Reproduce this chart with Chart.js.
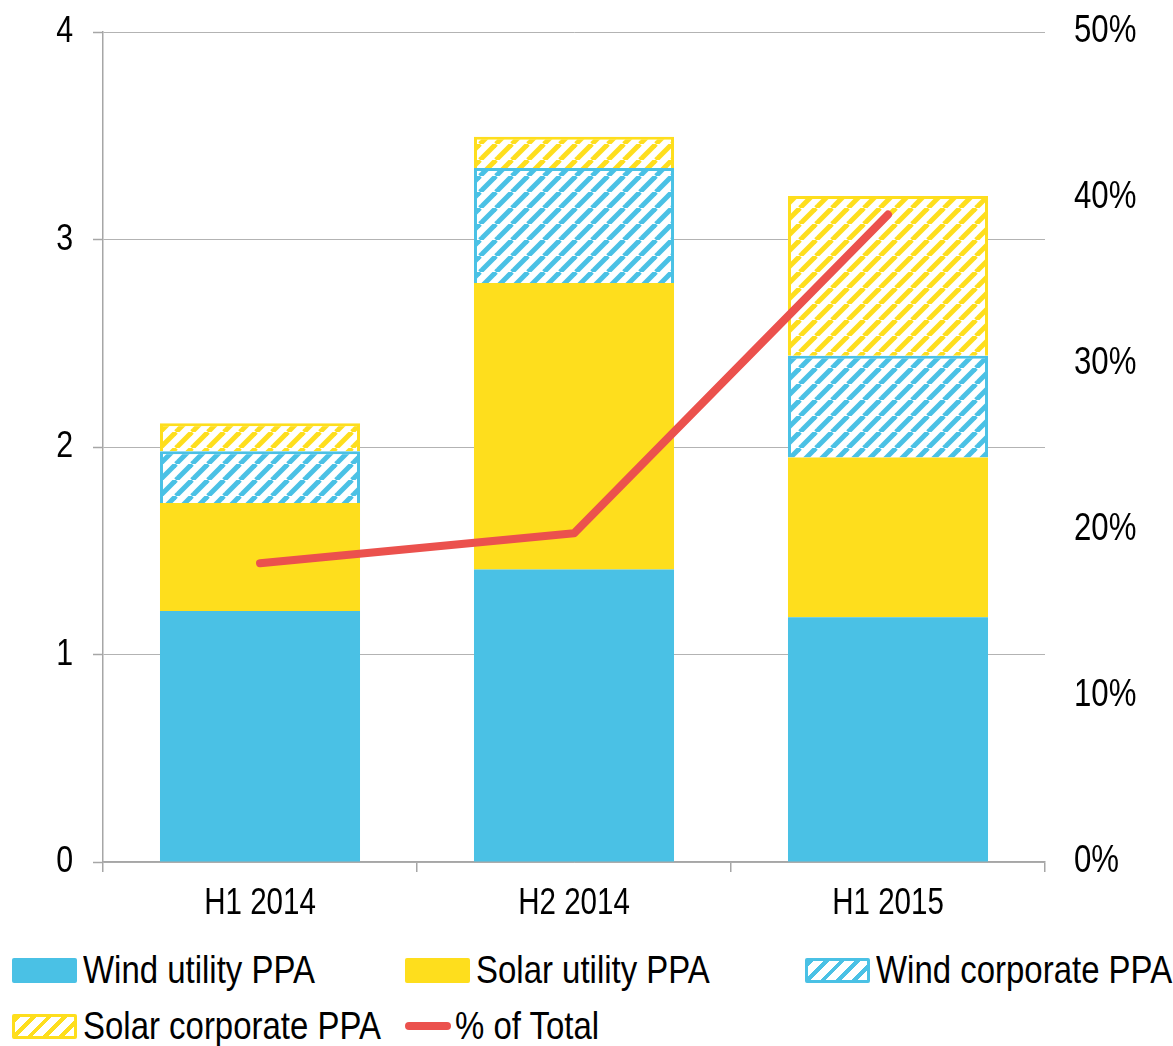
<!DOCTYPE html>
<html>
<head>
<meta charset="utf-8">
<script src="https://cdn.jsdelivr.net/npm/chart.js@4/dist/chart.umd.min.js"></script>
<style>
  body { margin: 0; background: #fff; width: 1173px; height: 1046px; overflow: hidden; }
  #wrap { position: absolute; left: 0; top: 0; width: 1173px; height: 940px; }
  .legend { position: absolute; left: 0; top: 940px; width: 1173px; height: 106px;
    font-family: "Liberation Sans", Arial, sans-serif; font-size: 39px; color: #000; }
  .item { position: absolute; display: flex; align-items: center; white-space: nowrap; }
  .box { width: 65px; height: 25px; box-sizing: border-box; margin-right: 6px; border-radius: 2px; flex: none; }
  .dash { width: 46px; height: 8px; border-radius: 4px; background: #eb514d; margin-right: 4px; flex: none; }
  .txt { display: inline-block; transform: scaleX(0.845); transform-origin: 0 50%; }
</style>
</head>
<body>
<div id="wrap"><canvas id="ppaChart" width="1173" height="940"></canvas></div>
<div class="legend" id="legend"></div>
<script>
const periods = ["H1 2014", "H2 2014", "H1 2015"];
const windUtility = [1.21, 1.41, 1.18];
const solarUtility = [0.52, 1.38, 0.77];
const windCorporate = [0.25, 0.555, 0.49];
const solarCorporate = [0.135, 0.15, 0.77];
const pctOfTotal = [18.0, 19.8, 39.0];
const leftTicks = [0, 1, 2, 3, 4];
const rightTicks = [0, 10, 20, 30, 40, 50];

const BLUE = "#4ac1e5";
const YELLOW = "#fede1d";
const RED = "#eb514d";
const FONT = '"Liberation Sans", Arial, sans-serif';
const NARROW = 0.82; // the original uses a narrow face, squeeze the regular one

function hatch(color) {
  const c = document.createElement("canvas");
  const s = 16;
  c.width = s; c.height = s;
  const g = c.getContext("2d");
  g.fillStyle = "#fff";
  g.fillRect(0, 0, s, s);
  g.strokeStyle = color;
  g.lineWidth = 5;
  for (const off of [-s, 0, s]) {
    g.beginPath();
    g.moveTo(off, s);
    g.lineTo(off + s, 0);
    g.stroke();
  }
  return g.createPattern(c, "repeat");
}

const ctx = document.getElementById("ppaChart").getContext("2d");
const baseFillText = ctx.fillText.bind(ctx);
ctx.fillText = function (text, x, y, maxWidth) {
  ctx.save();
  ctx.translate(x, y);
  ctx.scale(NARROW, 1);
  baseFillText(text, 0, 0);
  ctx.restore();
};

function noPad(s) {
  s.paddingTop = 0;
  s.paddingBottom = 0;
}

new Chart(ctx, {
  type: "bar",
  data: {
    labels: periods,
    datasets: [
      { label: "Wind utility PPA", data: windUtility, backgroundColor: BLUE, borderWidth: 0, order: 1 },
      { label: "Solar utility PPA", data: solarUtility, backgroundColor: YELLOW, borderWidth: 0, order: 1 },
      { label: "Wind corporate PPA", data: windCorporate, backgroundColor: hatch(BLUE), borderColor: BLUE, borderWidth: 3, order: 1 },
      { label: "Solar corporate PPA", data: solarCorporate, backgroundColor: hatch(YELLOW), borderColor: YELLOW, borderWidth: 3, order: 1 },
      {
        type: "line",
        label: "% of Total",
        data: pctOfTotal,
        yAxisID: "y1",
        borderColor: RED,
        backgroundColor: RED,
        borderWidth: 8,
        borderCapStyle: "round",
        borderJoinStyle: "round",
        pointRadius: 0,
        tension: 0,
        order: 0
      }
    ]
  },
  options: {
    responsive: false,
    animation: false,
    layout: { padding: { top: 32, left: 0, right: 0, bottom: 0 } },
    plugins: {
      legend: { display: false },
      tooltip: { enabled: false }
    },
    datasets: {
      bar: { categoryPercentage: 1, barPercentage: 0.637 }
    },
    scales: {
      x: {
        stacked: true,
        afterFit: s => { s.height = 78; s.paddingLeft = 0; s.paddingRight = 0; },
        grid: { offset: true, drawOnChartArea: false, tickLength: 10, color: "#a6a6a6", lineWidth: 1.5 },
        border: { display: true, color: "#a6a6a6", width: 1.5 },
        ticks: { color: "#000", font: { family: FONT, size: 36 }, padding: 10 }
      },
      y: {
        stacked: true,
        min: 0,
        max: 4,
        afterFit: s => { s.width = 103; noPad(s); },
        afterBuildTicks: s => { s.ticks = leftTicks.map(v => ({ value: v })); },
        grid: {
          color: "#b3b3b3",
          lineWidth: 1,
          borderDash: [2, 3],
          tickLength: 10,
          tickColor: "#a6a6a6",
          tickWidth: 1.5,
          tickBorderDash: []
        },
        border: { display: true, color: "#a6a6a6", width: 1.5 },
        ticks: { color: "#000", font: { family: FONT, size: 37 }, padding: 20 }
      },
      y1: {
        position: "right",
        min: 0,
        max: 50,
        afterFit: s => { s.width = 128; noPad(s); },
        afterBuildTicks: s => { s.ticks = rightTicks.map(v => ({ value: v })); },
        grid: { drawOnChartArea: false, drawTicks: false },
        border: { display: false },
        ticks: {
          color: "#000",
          font: { family: FONT, size: 38 },
          padding: 29,
          callback: v => v + "%"
        }
      }
    }
  }
});

// legend laid out as a grid like the original
const legendItems = [
  { text: "Wind utility PPA", x: 12, y: 970, kind: "solid", color: BLUE },
  { text: "Solar utility PPA", x: 405, y: 970, kind: "solid", color: YELLOW },
  { text: "Wind corporate PPA", x: 805, y: 970, kind: "hatch", color: BLUE },
  { text: "Solar corporate PPA", x: 12, y: 1026, kind: "hatch", color: YELLOW },
  { text: "% of Total", x: 405, y: 1026, kind: "line", color: RED }
];
const legend = document.getElementById("legend");
legendItems.forEach(it => {
  const el = document.createElement("div");
  el.className = "item";
  el.style.left = it.x + "px";
  el.style.top = (it.y - 940 - 24) + "px";
  el.style.height = "48px";
  const mark = document.createElement("span");
  if (it.kind === "line") {
    mark.className = "dash";
  } else {
    mark.className = "box";
    if (it.kind === "solid") {
      mark.style.background = it.color;
    } else {
      mark.style.border = "3px solid " + it.color;
      mark.style.background = "repeating-linear-gradient(-45deg, #fff 0 7px, " + it.color + " 7px 11px)";
    }
  }
  const label = document.createElement("span");
  label.className = "txt";
  label.textContent = it.text;
  el.appendChild(mark);
  el.appendChild(label);
  legend.appendChild(el);
});
</script>
</body>
</html>
